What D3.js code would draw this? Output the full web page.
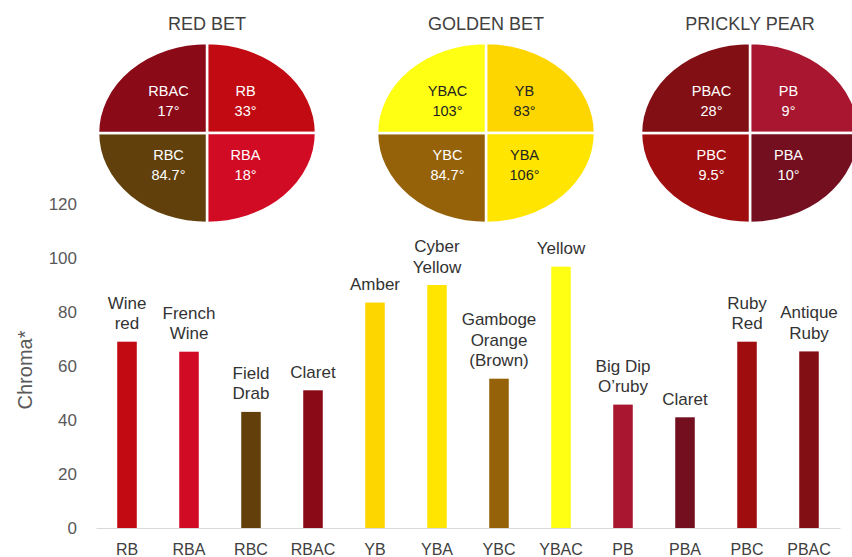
<!DOCTYPE html>
<html>
<head>
<meta charset="utf-8">
<script src="https://cdn.jsdelivr.net/npm/d3@7"></script>
<style>
    body { margin: 0; background: #fff; }
    text { font-family: "Liberation Sans", Arial, sans-serif; }
</style>
</head>
<body>
<div id="chroma"><svg></svg></div>
<script>
// Bar chart data
let categories = ["RB", "RBA", "RBC", "RBAC", "YB", "YBA", "YBC", "YBAC", "PB", "PBA", "PBC", "PBAC"]
let chromaValues = [69, 65.3, 43, 51, 83.5, 90, 55.3, 96.8, 45.7, 41, 69, 65.4]
let colourNames = [
    ["Wine", "red"], ["French", "Wine"], ["Field", "Drab"], ["Claret"],
    ["Amber"], ["Cyber", "Yellow"], ["Gamboge", "Orange", "(Brown)"], ["Yellow"],
    ["Big Dip", "O\u2019ruby"], ["Claret"], ["Ruby", "Red"], ["Antique", "Ruby"]
]
let barColours = ["#c20a12", "#d20b24", "#633f0c", "#8a0a18", "#fdd600", "#ffe500", "#95620a", "#ffff14",
    "#a8162f", "#730f1e", "#a00d0e", "#820f14"]
let yTicks = [0, 20, 40, 60, 80, 100, 120]

// Pie (quadrant) data, order: top-right, bottom-right, bottom-left, top-left
let pieTitles = ["RED BET", "GOLDEN BET", "PRICKLY PEAR"]
let pieLabels = [
    ["RB", "RBA", "RBC", "RBAC"],
    ["YB", "YBA", "YBC", "YBAC"],
    ["PB", "PBA", "PBC", "PBAC"]
]
let pieHues = [
    ["33°", "18°", "84.7°", "17°"],
    ["83°", "106°", "84.7°", "103°"],
    ["9°", "10°", "9.5°", "28°"]
]
let pieColours = [
    ["#c20a12", "#d20b24", "#61400b", "#8a0a18"],
    ["#fdd600", "#ffe500", "#95620a", "#ffff14"],
    ["#a8162f", "#730f1e", "#a00d0e", "#820f14"]
]
let pieTextColours = [
    ["#fff", "#fff", "#fff", "#fff"],
    ["#222", "#222", "#fff", "#222"],
    ["#fff", "#fff", "#fff", "#fff"]
]

let width = 852
let height = 557

let svg = d3.select("#chroma").select("svg")
    .attr("width", width)
    .attr("height", height)

// Scales
let x = d3.scaleBand()
    .domain(categories)
    .range([96, 840])
    .paddingInner(0.685)
    .paddingOuter(0.3425)

let y = d3.scaleLinear()
    .domain([0, 120])
    .range([528, 204])

// Y axis (labels only)
let yAxis = svg.append("g")
    .attr("transform", "translate(96,0)")
    .call(d3.axisLeft(y).tickValues(yTicks).tickSize(0).tickPadding(19))
yAxis.select(".domain").remove()
yAxis.selectAll("text")
    .attr("fill", "#595959")
    .style("font-size", "17px")
    .style("font-family", "'Liberation Sans', Arial, sans-serif")

// Y axis title
svg.append("text")
    .attr("transform", "translate(32,370) rotate(-90)")
    .attr("text-anchor", "middle")
    .attr("fill", "#595959")
    .style("font-size", "20px")
    .text("Chroma*")

// Bars
svg.append("g")
    .selectAll("rect")
    .data(categories)
    .join("rect")
    .attr("x", d => x(d))
    .attr("width", x.bandwidth())
    .attr("y", (d, i) => y(chromaValues[i]))
    .attr("height", (d, i) => y(0) - y(chromaValues[i]))
    .attr("fill", (d, i) => barColours[i])

// Baseline
let xAxis = svg.append("g")
    .attr("transform", "translate(0," + y(0) + ")")
    .call(d3.axisBottom(x).tickSize(0).tickPadding(16))
xAxis.select(".domain").attr("stroke", "#d9d9d9")
xAxis.selectAll("text")
    .attr("fill", "#404040")
    .style("font-size", "16px")
    .style("font-family", "'Liberation Sans', Arial, sans-serif")

// Colour name labels above the bars
let labels = svg.append("g")
    .selectAll("text")
    .data(categories)
    .join("text")
    .attr("text-anchor", "middle")
    .attr("fill", "#333")
    .style("font-size", "17px")
labels.each(function (d, i) {
    let lines = colourNames[i]
    let lastBase = y(chromaValues[i]) - 12.5
    d3.select(this).selectAll("tspan")
        .data(lines)
        .join("tspan")
        .attr("x", x(d) + x.bandwidth() / 2)
        .attr("y", (l, j) => lastBase - (lines.length - 1 - j) * 20.5)
        .text(l => l)
})

// Ellipse pies
let pieCentres = [207, 486, 750]
let rx = 109
let ry = 90
let pie = d3.pie().sort(null).value(1)
let arc = d3.arc().innerRadius(0).outerRadius(rx)

pieTitles.forEach((title, p) => {
    let g = svg.append("g")
        .attr("transform", "translate(" + pieCentres[p] + ",133)")

    svg.append("text")
        .attr("x", pieCentres[p])
        .attr("y", 30)
        .attr("text-anchor", "middle")
        .attr("fill", "#404040")
        .style("font-size", "18px")
        .text(title)

    let arcs = pie(pieLabels[p])

    g.append("g")
        .attr("transform", "scale(1," + (ry / rx) + ")")
        .selectAll("path")
        .data(arcs)
        .join("path")
        .attr("d", arc)
        .attr("fill", (d, i) => pieColours[p][i])
        .attr("stroke", "#fff")
        .attr("stroke-width", 2.5)
        .attr("vector-effect", "non-scaling-stroke")

    g.append("g")
        .selectAll("text")
        .data(arcs)
        .join("text")
        .attr("text-anchor", "middle")
        .attr("fill", (d, i) => pieTextColours[p][i])
        .style("font-size", "14.5px")
        .each(function (d, i) {
            let c = arc.centroid(d)
            let cx = c[0]
            let cy = c[1] * ry / rx
            let t = d3.select(this)
            t.append("tspan").attr("x", cx).attr("y", cy - 5).text(pieLabels[p][i])
            t.append("tspan").attr("x", cx).attr("y", cy + 15).text(pieHues[p][i])
        })
})
</script>
</body>
</html>
